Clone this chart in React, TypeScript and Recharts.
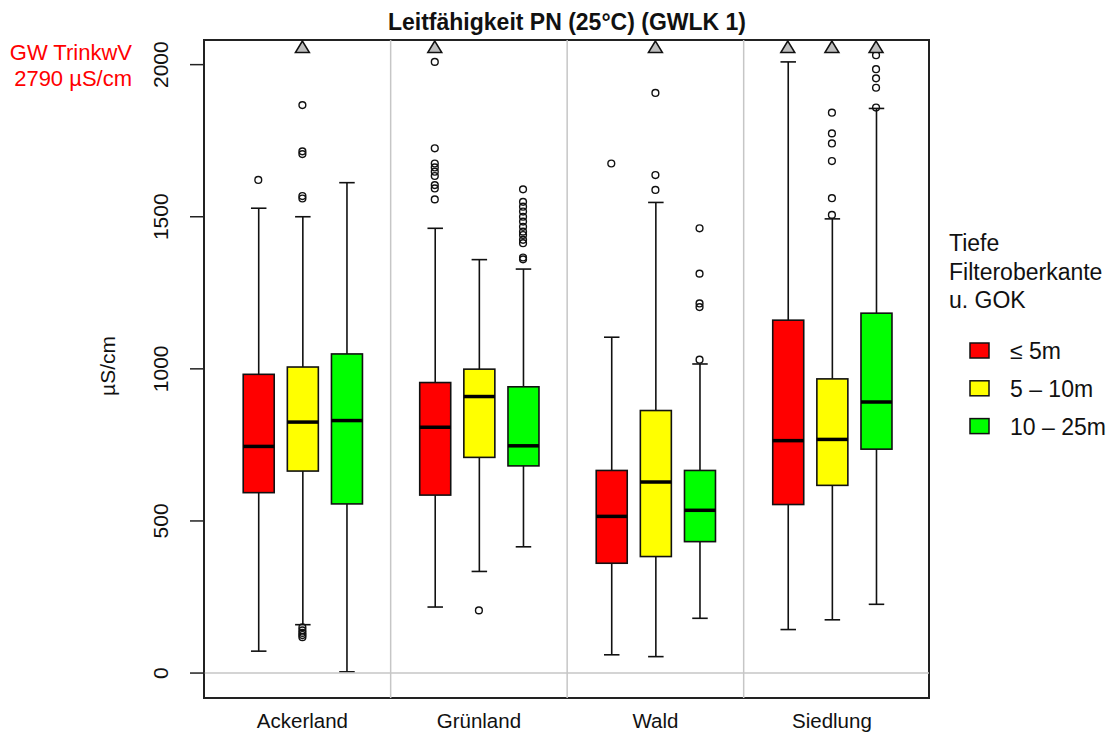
import { ComposedChart, Bar, Scatter, XAxis, YAxis, ReferenceLine, ReferenceArea } from 'recharts';

const GROUPS = ['Ackerland', 'Grünland', 'Wald', 'Siedlung'];
const DEPTHS = ['≤ 5m', '5 – 10m', '10 – 25m'];
const DEPTH_COLORS = ['#ff0000', '#ffff00', '#00ff00'];

// x slot of every box: three depth classes per land use, one empty slot between groups
const POSITIONS = [1, 2, 3, 5, 6, 7, 9, 10, 11, 13, 14, 15];
const SEPARATORS = [4, 8, 12];
const GROUP_CENTERS = [2, 6, 10, 14];

// box statistics in µS/cm, same order as POSITIONS
const WHISKER_LOW = [72, 159, 4, 217, 334, 415, 60, 54, 180, 143, 175, 226];
const Q1 = [593, 664, 556, 585, 709, 681, 361, 383, 432, 554, 617, 736];
const MEDIAN = [745, 825, 830, 808, 909, 747, 515, 628, 535, 764, 768, 891];
const Q3 = [982, 1006, 1049, 955, 999, 941, 666, 863, 666, 1160, 967, 1183];
const WHISKER_HIGH = [1528, 1500, 1612, 1462, 1359, 1328, 1104, 1547, 1016, 2009, 1493, 1856];

const OUTLIERS: number[][] = [
  [1621],
  [118, 125, 132, 140, 150, 1560, 1568, 1706, 1715, 1867],
  [],
  [1557, 1593, 1604, 1634, 1648, 1662, 1675, 1725, 2009],
  [206],
  [1360, 1366, 1413, 1424, 1440, 1451, 1467, 1484, 1500, 1517, 1533, 1549, 1590],
  [1675],
  [1588, 1637, 1907],
  [1030, 1203, 1215, 1313, 1462],
  [],
  [1506, 1561, 1683, 1741, 1774, 1842],
  [1859, 1924, 1955, 1985, 2031],
];

// boxes with values above the plotted range get a triangle at the top
const OFF_SCALE = [2, 5, 10, 13, 14, 15];
const OFF_SCALE_MARK = 2058;

const Y_TICKS = [0, 500, 1000, 1500, 2000];
const X_MIN = -0.23;
const X_MAX = 16.2;
const Y_MIN = -82;
const Y_MAX = 2081;

const FONT = '"Liberation Sans", Arial, sans-serif';

const boxes = POSITIONS.map((pos, i) => ({
  pos,
  lo: WHISKER_LOW[i],
  q1: Q1[i],
  med: MEDIAN[i],
  q3: Q3[i],
  hi: WHISKER_HIGH[i],
  fill: DEPTH_COLORS[i % 3],
  range: [WHISKER_LOW[i], WHISKER_HIGH[i]],
}));

const outlierPoints = OUTLIERS.flatMap((vals, i) => vals.map((v) => ({ pos: POSITIONS[i], v })));
const offScalePoints = OFF_SCALE.map((pos) => ({ pos, v: OFF_SCALE_MARK }));

function BoxShape(props: any) {
  const { x, y, width, height, payload } = props;
  if (!payload || height == null) return null;
  const { lo, q1, med, q3, hi, fill } = payload;
  const top = Math.min(y, y + height);
  const bottom = Math.max(y, y + height);
  // bar spans lo..hi, so place the inner statistics along it
  const py = (v: number) => bottom - ((bottom - top) * (v - lo)) / (hi - lo);
  const cx = x + width / 2;
  const cap = width / 4;
  const ink = '#111';
  return (
    <g>
      <line x1={cx} x2={cx} y1={py(hi)} y2={py(q3)} stroke={ink} strokeWidth={1.6} />
      <line x1={cx} x2={cx} y1={py(q1)} y2={py(lo)} stroke={ink} strokeWidth={1.6} />
      <line x1={cx - cap} x2={cx + cap} y1={py(hi)} y2={py(hi)} stroke={ink} strokeWidth={1.6} />
      <line x1={cx - cap} x2={cx + cap} y1={py(lo)} y2={py(lo)} stroke={ink} strokeWidth={1.6} />
      <rect x={x} y={py(q3)} width={width} height={py(q1) - py(q3)} fill={fill} stroke={ink} strokeWidth={1.6} />
      <line x1={x} x2={x + width} y1={py(med)} y2={py(med)} stroke="#000" strokeWidth={3.5} />
    </g>
  );
}

function OutlierDot(props: any) {
  const { cx, cy } = props;
  return <circle cx={cx} cy={cy} r={3.4} fill="none" stroke="#111" strokeWidth={1.4} />;
}

function OffScaleMark(props: any) {
  const { cx, cy } = props;
  return (
    <polygon
      points={`${cx},${cy - 6} ${cx - 7},${cy + 5.5} ${cx + 7},${cy + 5.5}`}
      fill="#bebebe"
      stroke="#111"
      strokeWidth={1.5}
    />
  );
}

function CategoryTick(props: any) {
  const { x, y, payload } = props;
  const label = GROUPS[GROUP_CENTERS.indexOf(payload.value)];
  return (
    <text x={x} y={y + 30} textAnchor="middle" fontSize={20.5} fontFamily={FONT} fill="#111">
      {label}
    </text>
  );
}

function ValueTick(props: any) {
  const { x, y, payload } = props;
  const tx = x - 20;
  return (
    <text
      x={tx}
      y={y}
      transform={`rotate(-90 ${tx} ${y})`}
      textAnchor="middle"
      fontSize={21}
      fontFamily={FONT}
      fill="#111"
    >
      {payload.value}
    </text>
  );
}

export default function App() {
  return (
    <div style={{ position: 'relative', width: 1100, height: 729 }}>
      <ComposedChart
        width={1100}
        height={729}
        data={boxes}
        margin={{ top: 32, right: 179, bottom: 9, left: 130 }}
      >
        <XAxis
          dataKey="pos"
          type="number"
          domain={[X_MIN, X_MAX]}
          allowDataOverflow
          ticks={GROUP_CENTERS}
          height={30}
          axisLine={false}
          tickLine={false}
          tickSize={0}
          tickMargin={0}
          tick={<CategoryTick />}
        />
        <YAxis
          type="number"
          domain={[Y_MIN, Y_MAX]}
          allowDataOverflow
          ticks={Y_TICKS}
          width={66}
          tickSize={14}
          tickMargin={2}
          axisLine={{ stroke: '#222', strokeWidth: 1.5 }}
          tickLine={{ stroke: '#222', strokeWidth: 1.5 }}
          tick={<ValueTick />}
        />
        <ReferenceLine y={0} stroke="#c6c6c6" strokeWidth={1.5} />
        {SEPARATORS.map((s) => (
          <ReferenceLine key={s} x={s} stroke="#c6c6c6" strokeWidth={1.5} />
        ))}
        <Bar dataKey="range" barSize={31} shape={<BoxShape />} isAnimationActive={false} />
        <Scatter data={outlierPoints} dataKey="v" shape={<OutlierDot />} isAnimationActive={false} />
        <Scatter data={offScalePoints} dataKey="v" shape={<OffScaleMark />} isAnimationActive={false} />
        <ReferenceArea
          x1={X_MIN}
          x2={X_MAX}
          y1={Y_MIN}
          y2={Y_MAX}
          fill="none"
          fillOpacity={0}
          stroke="#222"
          strokeWidth={2}
          ifOverflow="visible"
        />
      </ComposedChart>
      <svg
        width={1100}
        height={729}
        style={{ position: 'absolute', left: 0, top: 0, pointerEvents: 'none' }}
        fontFamily={FONT}
      >
        <text x={559} y={21.5} textAnchor="middle" fontSize={23} fontWeight="bold" fill="#111">
          Leitfähigkeit PN (25°C) (GWLK 1)
        </text>
        <text x={124} y={52} textAnchor="end" fontSize={22} fill="#ff0000">
          GW TrinkwV
        </text>
        <text x={124} y={78} textAnchor="end" fontSize={22} fill="#ff0000">
          2790 µS/cm
        </text>
        <text x={107} y={358} transform="rotate(-90 107 358)" textAnchor="middle" fontSize={21} fill="#111">
          µS/cm
        </text>
        <text x={941} y={243} fontSize={23} fill="#111">Tiefe</text>
        <text x={941} y={272} fontSize={23} fill="#111">Filteroberkante</text>
        <text x={941} y={300} fontSize={23} fill="#111">u. GOK</text>
        {DEPTHS.map((d, i) => (
          <g key={d}>
            <rect
              x={962}
              y={335 + i * 37.8}
              width={19}
              height={15}
              fill={DEPTH_COLORS[i]}
              stroke="#111"
              strokeWidth={1.5}
            />
            <text x={1002} y={351 + i * 38} fontSize={23} fill="#111">
              {d}
            </text>
          </g>
        ))}
      </svg>
    </div>
  );
}
